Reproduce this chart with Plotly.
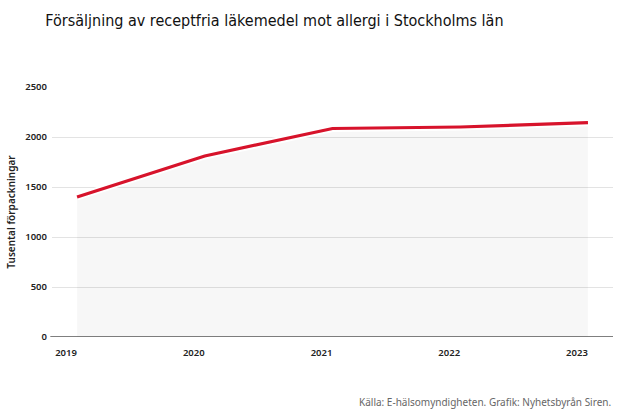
import plotly.graph_objects as go

years = [2019, 2020, 2021, 2022, 2023]
values = [1400, 1810, 2085, 2100, 2143]
y_ticks = [0, 500, 1000, 1500, 2000, 2500]

title = "Försäljning av receptfria läkemedel mot allergi i Stockholms län"
y_title = "Tusental förpackningar"
source = "Källa: E-hälsomyndigheten. Grafik: Nyhetsbyrån Siren."

fig = go.Figure()
fig.add_trace(go.Scatter(x=years, y=values, mode="lines", fill="tozeroy",
                         fillcolor="rgba(0,0,0,0.03)",
                         line=dict(color="white", width=7), hoverinfo="skip"))
fig.add_trace(go.Scatter(x=years, y=values, mode="lines",
                         line=dict(color="#d7132b", width=3.2)))

fig.update_layout(
    width=620, height=413,
    margin=dict(l=52, r=7, t=87, b=76),
    paper_bgcolor="white", plot_bgcolor="white",
    showlegend=False,
    title=dict(text=title, x=0.073, xanchor="left", y=0.95, yanchor="middle",
               font=dict(family="DejaVu Sans Condensed, DejaVu Sans",
                         size=16, color="#111")),
    xaxis=dict(range=[2018.804, 2023.196], tickvals=years, ticktext=[str(y) for y in years],
               showgrid=False, zeroline=False, showline=False, ticks="",
               ticklabelshift=-11, ticklabelstandoff=8, automargin=False,
               tickfont=dict(family="Noto Sans", size=9.5, color="#222", weight=600)),
    yaxis=dict(range=[0, 2500], tickvals=y_ticks, showgrid=True, gridcolor="#e3e3e3",
               gridwidth=1, zeroline=False, showline=False, ticks="",
               ticklabelstandoff=4, automargin=False,
               tickfont=dict(family="Noto Sans", size=9.5, color="#222", weight=600),
               title=dict(text=y_title, standoff=7,
                          font=dict(family="Noto Sans", size=10, color="#222", weight=600))),
    annotations=[dict(text=source, x=1, xref="paper", xanchor="right",
                      y=-0.26, yref="paper", yanchor="middle", showarrow=False,
                      font=dict(family="Noto Sans", size=10, color="#666"))],
)
# zero baseline
fig.add_shape(type="line", xref="x domain", yref="y", x0=-0.003, x1=1, y0=0, y1=0,
              line=dict(color="#555", width=1.5))
fig.write_html("out.html", config={"displayModeBar": False},
               post_script="document.body.style.margin='0';")
